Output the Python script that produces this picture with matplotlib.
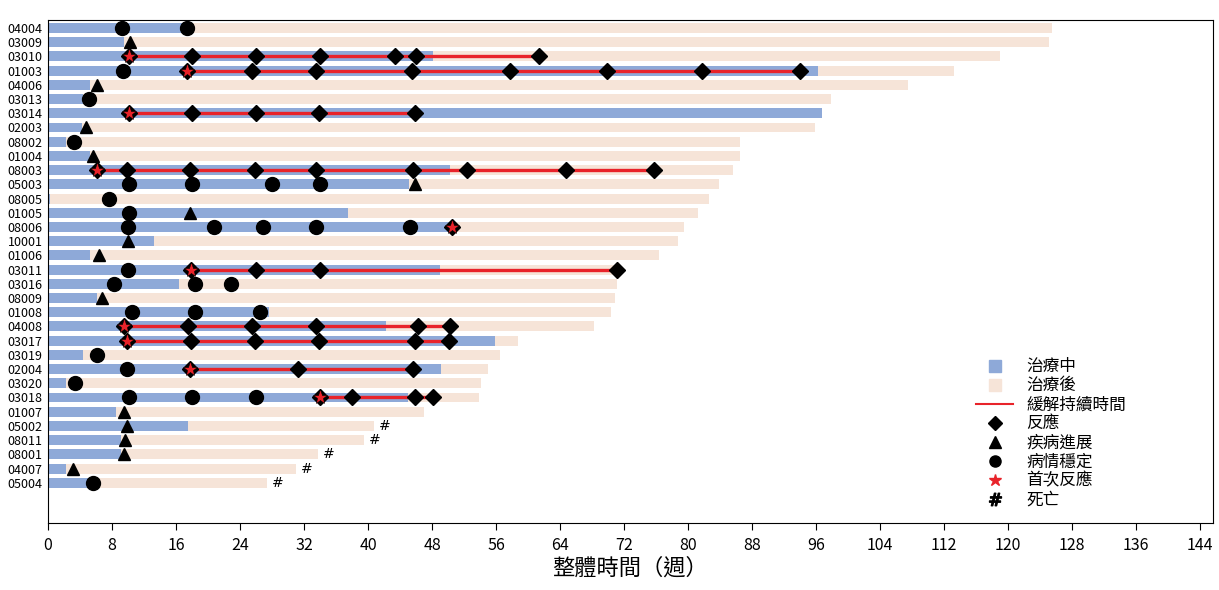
import matplotlib
matplotlib.use("Agg")
import matplotlib.pyplot as plt
from matplotlib.lines import Line2D

plt.rcParams['font.family'] = ['Noto Sans CJK TC', 'DejaVu Sans']

patients = ["04004", "03009", "03010", "01003", "04006", "03013", "03014", "02003", "08002",
            "01004", "08003", "05003", "08005", "01005", "08006", "10001", "01006", "03011",
            "03016", "08009", "01008", "04008", "03017", "03019", "02004", "03020", "03018",
            "01007", "05002", "08011", "08001", "04007", "05004"]

on_treatment = [17.4, 9.5, 48.1, 96.25, 5.25, 4.4, 96.75, 4.25, 2.25,
                5.25, 50.25, 45.1, 0.2, 37.5, 50.25, 13.25, 5.25, 49.0,
                16.4, 6.1, 27.6, 42.25, 55.9, 4.4, 49.1, 2.25, 45.0,
                8.5, 17.5, 9.1, 9.1, 2.25, 5.1]

total_time = [125.5, 125.1, 119.0, 113.25, 107.5, 97.9, 96.75, 95.9, 86.5,
              86.5, 85.6, 83.9, 82.6, 81.2, 79.5, 78.75, 76.4, 71.1,
              71.1, 70.9, 70.4, 68.25, 58.75, 56.5, 55.0, 54.1, 53.9,
              47.0, 40.75, 39.5, 33.75, 31.0, 27.4]

responses = {
    "03010": [10.1, 18, 26, 34, 43.4, 46, 61.4],
    "01003": [17.4, 25.5, 33.5, 45.5, 57.75, 69.9, 81.75, 94],
    "03014": [10.1, 18, 26, 33.9, 45.9],
    "08003": [6.1, 9.9, 17.75, 25.9, 33.5, 45.6, 52.4, 64.75, 75.75],
    "08006": [50.5],
    "03011": [17.9, 26, 34, 71.1],
    "04008": [9.5, 17.5, 25.5, 33.5, 46.25, 50.25],
    "03017": [9.9, 17.9, 25.9, 33.9, 45.9, 50.1],
    "02004": [17.75, 31.25, 45.6],
    "03018": [34, 38, 45.9, 48.1],
}

first_response = {"03010": 10.1, "01003": 17.4, "03014": 10.1, "08003": 6.1, "08006": 50.5,
                  "03011": 17.9, "04008": 9.5, "03017": 9.9, "02004": 17.75, "03018": 34}

remission_end = {"03010": 61.4, "01003": 94, "03014": 45.9, "08003": 75.75,
                 "03011": 71.1, "04008": 50.25, "03017": 50.1, "02004": 45.6, "03018": 48.1}

progression = {"03009": [10.25], "04006": [6.1], "02003": [4.75], "01004": [5.6],
               "05003": [45.9], "01005": [17.75], "10001": [10], "01006": [6.4],
               "08009": [6.75], "01007": [9.5], "05002": [9.9], "08011": [9.6],
               "08001": [9.5], "04007": [3.1]}

stable = {"04004": [9.25, 17.4], "01003": [9.4], "03013": [5.1], "08002": [3.25],
          "05003": [10.1, 18, 28, 34], "08005": [7.6], "01005": [10.1],
          "08006": [10, 20.75, 26.9, 33.5, 45.25], "03011": [10], "03016": [8.25, 18.4, 22.9],
          "01008": [10.5, 18.4, 26.5], "03019": [6.1], "02004": [9.9], "03020": [3.4],
          "03018": [10.1, 18, 26], "05004": [5.6]}

deaths = ["05002", "08011", "08001", "04007", "05004"]

xticks = list(range(0, 145, 8))

blue = "#8EA9D8"
peach = "#F6E4D8"
red = "#E8232A"

fig = plt.figure(figsize=(12.19, 5.90), dpi=100)
ax = fig.add_axes([0.0394, 0.1136, 0.9556, 0.8524])

ypos = {p: i for i, p in enumerate(patients)}
h = 0.7
ax.barh(range(len(patients)), total_time, height=h, color=peach, zorder=1)
ax.barh(range(len(patients)), on_treatment, height=h, color=blue, zorder=2)

for p, end in remission_end.items():
    y = ypos[p]
    ax.plot([first_response[p], end], [y, y], color=red, lw=2.4, zorder=3, solid_capstyle='butt')

for p, xs in responses.items():
    ax.plot(xs, [ypos[p]] * len(xs), linestyle='none', marker='D', ms=8.5, color='black', zorder=4)
for p, xs in progression.items():
    ax.plot(xs, [ypos[p]] * len(xs), linestyle='none', marker='^', ms=9, color='black', zorder=4)
for p, xs in stable.items():
    ax.plot(xs, [ypos[p]] * len(xs), linestyle='none', marker='o', ms=10, color='black', zorder=4)
for p, x in first_response.items():
    ax.plot([x], [ypos[p]], linestyle='none', marker='*', ms=11, color=red,
            markeredgecolor='black', markeredgewidth=0.4, zorder=5)
for p in deaths:
    i = ypos[p]
    ax.text(total_time[i] + 0.6, i, "#", fontsize=10, va='center', ha='left',
            family='DejaVu Sans', zorder=5)

ax.set_xlim(0, 145.6)
ax.set_ylim(34.83, -0.56)
ax.set_yticks(range(len(patients)))
ax.set_yticklabels(patients, fontsize=9)
ax.tick_params(axis='y', length=0, pad=4)
ax.set_xticks(xticks)
ax.set_xticklabels([str(t) for t in xticks], fontsize=11.5)
ax.tick_params(axis='x', length=5, direction='out', pad=5)
ax.set_xlabel("整體時間（週）", fontsize=16, labelpad=2)

handles = [
    Line2D([], [], linestyle='none', marker='s', ms=9, color=blue),
    Line2D([], [], linestyle='none', marker='s', ms=9, color=peach),
    Line2D([], [], color=red, lw=1.5),
    Line2D([], [], linestyle='none', marker='D', ms=7, color='black'),
    Line2D([], [], linestyle='none', marker='^', ms=8, color='black'),
    Line2D([], [], linestyle='none', marker='o', ms=8, color='black'),
    Line2D([], [], linestyle='none', marker='*', ms=9, color=red),
    Line2D([], [], linestyle='none', marker='$\\#$', ms=9, color='black'),
]
labels = ["治療中", "治療後", "緩解持續時間", "反應", "疾病進展", "病情穩定", "首次反應", "死亡"]
fig.legend(handles, labels, loc='upper left', bbox_to_anchor=(968 / 1219, 1 - 350 / 590),
           frameon=False, fontsize=12, handlelength=2.2, labelspacing=0.12, handletextpad=0.8,
           borderpad=0)

fig.savefig("out.png", dpi=100)
